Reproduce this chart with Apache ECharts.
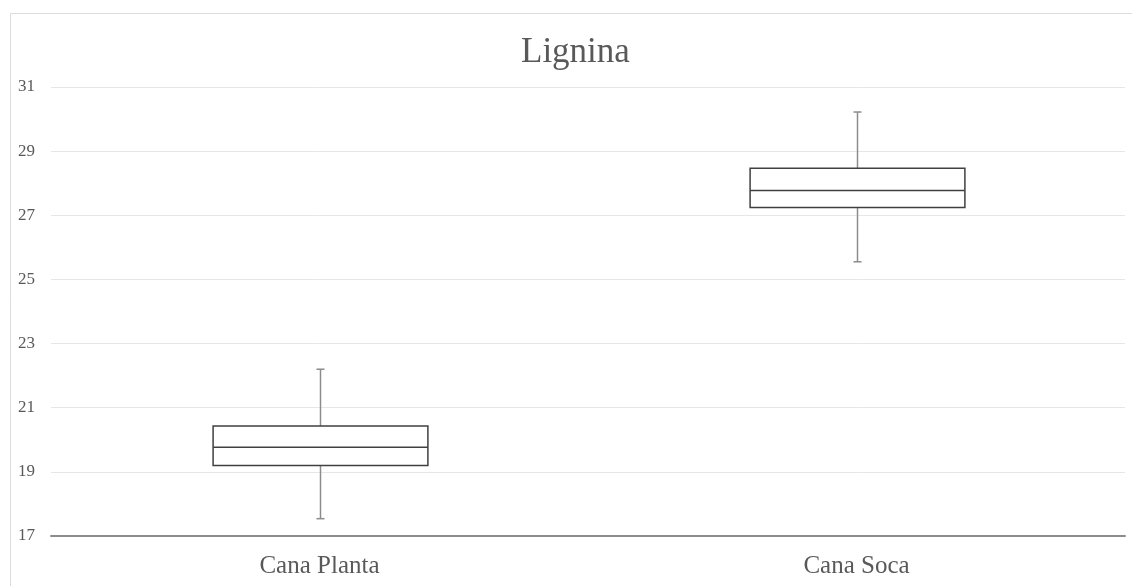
<!DOCTYPE html>
<html>
<head>
<meta charset="utf-8">
<script src="https://cdn.jsdelivr.net/npm/echarts@6/dist/echarts.min.js"></script>
<style>html,body{margin:0;padding:0;background:#fff;}#c{width:1132px;height:586px;}</style>
</head>
<body>
<div id="c"></div>
<script>
const categories = ['Cana Planta', 'Cana Soca'];
const minValues = [17.54, 25.55];
const q1Values = [19.20, 27.24];
const medianValues = [19.77, 27.77];
const q3Values = [20.43, 28.47];
const maxValues = [22.20, 30.22];
const yTicks = { min: 17, max: 31, interval: 2 };

const boxData = categories.map((c, i) => [i, minValues[i], q1Values[i], medianValues[i], q3Values[i], maxValues[i]]);

const chart = echarts.init(document.getElementById('c'), null, { renderer: 'canvas' });
const serif = '"Liberation Serif", "Times New Roman", serif';
chart.setOption({
  backgroundColor: '#ffffff',
  animation: false,
  title: {
    text: 'Lignina',
    left: 516, top: 30,
    textStyle: { fontFamily: serif, fontSize: 35, fontWeight: 'normal', color: '#595959' }
  },
  graphic: [{
    type: 'rect', z: -10, silent: true,
    shape: { x: 10.5, y: 13.5, width: 1300, height: 1000 },
    style: { fill: 'none', stroke: '#dcdcdc', lineWidth: 1 }
  }],
  grid: { left: 51, right: 7, top: 87, bottom: 50, containLabel: false },
  xAxis: {
    type: 'category', data: categories,
    axisLine: { show: true, lineStyle: { color: '#8c8c8c', width: 2 } },
    axisTick: { show: false },
    axisLabel: { fontFamily: serif, fontSize: 25, color: '#595959', margin: 18 },
    splitLine: { show: false }
  },
  yAxis: {
    type: 'value', min: yTicks.min, max: yTicks.max, interval: yTicks.interval,
    axisLine: { show: false }, axisTick: { show: false },
    axisLabel: { fontFamily: serif, fontSize: 17, color: '#595959', margin: 16 },
    splitLine: { lineStyle: { color: '#e6e6e6', width: 1 } }
  },
  series: [{
    type: 'custom',
    data: boxData,
    encode: { x: 0, y: [1, 2, 3, 4, 5] },
    renderItem: function (params, api) {
      const x = api.value(0);
      const pMin = api.coord([x, api.value(1)]);
      const pQ1 = api.coord([x, api.value(2)]);
      const pMed = api.coord([x, api.value(3)]);
      const pQ3 = api.coord([x, api.value(4)]);
      const pMax = api.coord([x, api.value(5)]);
      const bw = api.size([1, 0])[0] * 0.4;
      const cx = Math.round(pMin[0]) + 0.5;
      const half = bw / 2;
      const cap = 4;
      const gray = { stroke: '#8c8c8c', lineWidth: 1.5 };
      const dark = { stroke: '#404040', lineWidth: 1.5 };
      return {
        type: 'group',
        children: [
          { type: 'line', shape: { x1: cx, y1: pQ3[1], x2: cx, y2: pMax[1] }, style: gray },
          { type: 'line', shape: { x1: cx, y1: pQ1[1], x2: cx, y2: pMin[1] }, style: gray },
          { type: 'line', shape: { x1: cx - cap, y1: pMax[1], x2: cx + cap, y2: pMax[1] }, style: gray },
          { type: 'line', shape: { x1: cx - cap, y1: pMin[1], x2: cx + cap, y2: pMin[1] }, style: gray },
          { type: 'rect', shape: { x: cx - half, y: pQ3[1], width: bw, height: pQ1[1] - pQ3[1] },
            style: { fill: '#ffffff', stroke: '#404040', lineWidth: 1.5 } },
          { type: 'line', shape: { x1: cx - half, y1: pMed[1], x2: cx + half, y2: pMed[1] }, style: dark }
        ]
      };
    }
  }]
});
</script>
</body>
</html>
